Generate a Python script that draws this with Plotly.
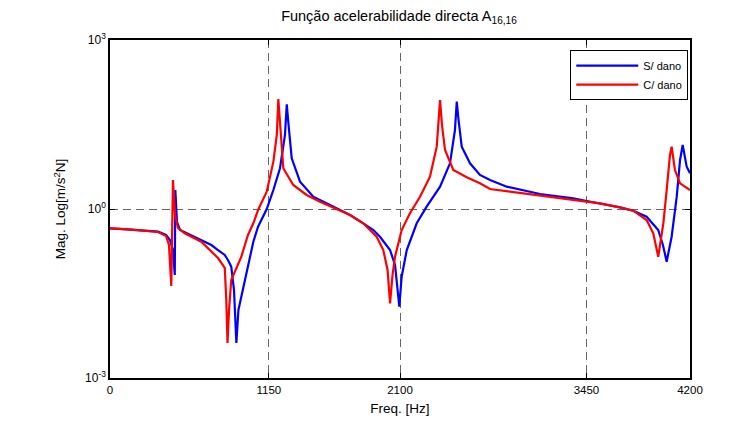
import plotly.graph_objects as go
import numpy as np

# Frequencies [Hz] and log10 magnitudes
s_freq = [0, 130, 348, 406, 434, 456, 469, 473, 485, 507, 541, 661, 734, 782, 831, 854, 878, 898, 915, 930,
          951, 999, 1038, 1072, 1135, 1183, 1231, 1267, 1280, 1293, 1316, 1376, 1472, 1593, 1738, 1834, 1907,
          1955, 2028, 2064, 2095, 2112, 2149, 2221, 2293, 2390, 2462, 2498, 2511, 2524, 2547, 2607, 2679, 2752,
          2873, 3114, 3355, 3452, 3548, 3693, 3789, 3886, 3970, 4004, 4031, 4067, 4104, 4128, 4147, 4176, 4200]
s_log = [-0.343, -0.360, -0.403, -0.461, -0.550, -0.728, -1.171, 0.337, -0.231, -0.373, -0.414, -0.550, -0.639,
         -0.728, -0.816, -0.905, -1.024, -1.438, -2.379, -1.793, -1.557, -0.958, -0.580, -0.314, 0.000, 0.337,
         0.723, 1.314, 1.859, 1.491, 0.900, 0.485, 0.218, 0.071, -0.106, -0.254, -0.373, -0.492, -0.728, -0.994,
         -1.734, -1.202, -0.728, -0.254, 0.041, 0.396, 0.811, 1.402, 1.905, 1.580, 1.106, 0.811, 0.604, 0.515,
         0.396, 0.266, 0.190, 0.142, 0.101, 0.030, -0.030, -0.137, -0.373, -0.639, -0.935, -0.492, 0.218, 0.870,
         1.136, 0.751, 0.634]

c_freq = [0, 130, 348, 406, 427, 444, 456, 471, 492, 541, 661, 734, 782, 831, 842, 851, 862, 878, 951, 999,
          1038, 1072, 1135, 1183, 1208, 1219, 1231, 1255, 1327, 1424, 1521, 1653, 1738, 1834, 1931, 1979, 2010,
          2028, 2046, 2064, 2112, 2172, 2245, 2317, 2366, 2390, 2404, 2426, 2486, 2583, 2679, 2752, 2993, 3235,
          3452, 3548, 3693, 3789, 3886, 3934, 3970, 4007, 4031, 4055, 4067, 4091, 4128, 4200]
c_log = [-0.343, -0.360, -0.408, -0.479, -0.639, -1.367, 0.515, -0.106, -0.337, -0.431, -0.580, -0.758, -0.870,
         -1.047, -1.615, -2.379, -1.793, -1.260, -0.847, -0.461, -0.254, -0.018, 0.307, 0.840, 1.314, 1.953,
         1.491, 0.723, 0.426, 0.249, 0.130, -0.018, -0.106, -0.254, -0.492, -0.728, -1.083, -1.674, -1.171,
         -0.847, -0.373, -0.076, 0.218, 0.573, 1.106, 1.935, 1.491, 1.047, 0.692, 0.563, 0.456, 0.355, 0.279,
         0.208, 0.130, 0.101, 0.030, -0.030, -0.195, -0.431, -0.847, -0.254, 0.337, 0.959, 1.106, 0.692, 0.456,
         0.337]

x_ticks = [0, 1150, 2100, 3450, 4200]
y_ticks = [1e-3, 1e0, 1e3]
y_tick_text = ["10<sup>-3</sup>", "10<sup>0</sup>", "10<sup>3</sup>"]

fig = go.Figure()
fig.add_trace(go.Scatter(x=s_freq, y=10 ** np.array(s_log), mode="lines", name="S/ dano",
                         line=dict(color="#0000FF", width=2.2)))
fig.add_trace(go.Scatter(x=c_freq, y=10 ** np.array(c_log), mode="lines", name="C/ dano",
                         line=dict(color="#FF0000", width=2.2)))

font_family = "Liberation Sans, Arial, sans-serif"
grid_dash = "8px,5px"
fig.update_layout(
    width=750, height=421,
    margin=dict(l=110, r=60, t=40, b=43, autoexpand=False),
    paper_bgcolor="white", plot_bgcolor="white",
    font=dict(family=font_family, size=12, color="black"),
    title=dict(text="Função acelerabilidade directa A<sub>16,16</sub>", x=0.532, xanchor="center",
               y=0.963, yanchor="middle", font=dict(size=14.5, family=font_family)),
    showlegend=True,
    legend=dict(x=0.997, y=0.97, xanchor="right", yanchor="top", bgcolor="white",
                bordercolor="black", borderwidth=1, font=dict(size=11),
                itemwidth=62, tracegroupgap=2),
)
fig.update_xaxes(range=[0, 4200], tickvals=x_ticks, ticks="inside", ticklen=5, tickcolor="black",
                 showline=True, linecolor="black", linewidth=1.5, mirror="ticks", automargin=False,
                 showgrid=True, gridcolor="#666666", griddash=grid_dash, gridwidth=1, zeroline=False,
                 tickfont=dict(size=11.5),
                 title=dict(text="Freq. [Hz]", standoff=9, font=dict(size=13.5)))
fig.update_yaxes(type="log", range=[-3, 3], tickvals=y_ticks, ticktext=y_tick_text, ticks="inside",
                 ticklen=5, tickcolor="black", showline=True, linecolor="black", linewidth=1.5,
                 mirror="ticks", showgrid=True, gridcolor="#666666", griddash=grid_dash, gridwidth=1,
                 tickfont=dict(size=12), automargin=False,
                 zeroline=False, title=dict(text="Mag. Log[m/s<sup>2</sup>N]", standoff=16, font=dict(size=13.5)))

fig.write_html("out.html", config={"displayModeBar": False},
               post_script="document.body.style.margin='0px';")
